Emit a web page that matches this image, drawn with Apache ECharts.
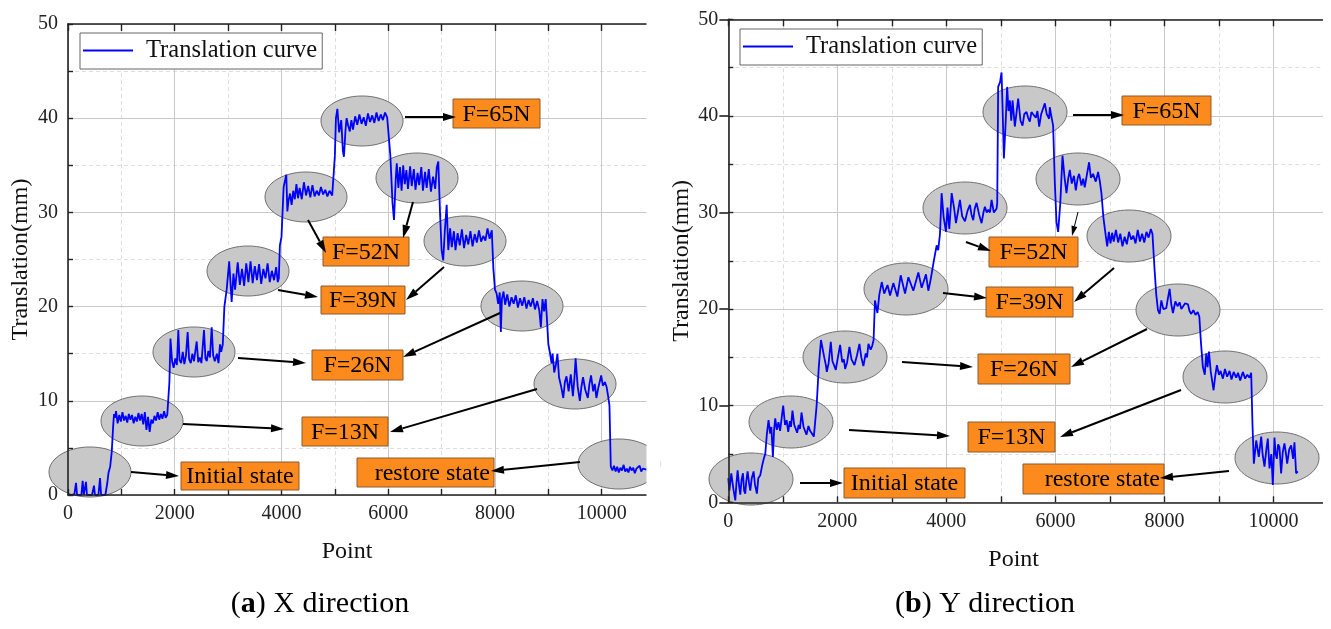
<!DOCTYPE html>
<html>
<head>
<meta charset="utf-8">
<title>Translation curve</title>
<script src="https://cdn.jsdelivr.net/npm/echarts@6/dist/echarts.min.js"></script>
<style>
  html, body { margin: 0; padding: 0; background: #fff; }
  #mychart { width: 1331px; height: 629px; }
</style>
</head>
<body>
<div id="mychart"></div>
<script>
var curveName = 'Translation curve';
var stateLabels = ['Initial state', 'F=13N', 'F=26N', 'F=39N', 'F=52N', 'F=65N', 'restore state'];
var panelCaptions = ['X direction', 'Y direction'];
var panelTags = ['a', 'b'];

// [point, translation mm]
var xDirection = [
  [0,0],[60,0],[120,0.1],[150,1.3],[170,0],[250,0],[275,1.5],[295,0],[320,0.2],[337,1.4],[355,0],[450,0],[487,1.0],[505,0],
  [570,0],[600,1.8],[620,0],[700,0],[737,1.3],[760,2.4],[790,3.0],[820,4.6],[845,7.2],[862,8.6],
  [880,8.2],[900,8.9],[930,7.6],[960,8.5],[990,7.8],[1020,8.8],[1050,7.9],[1080,8.4],[1110,7.7],[1140,8.6],[1170,8.0],
  [1200,8.5],[1230,7.6],[1260,8.3],[1290,7.8],[1320,8.7],[1350,7.9],[1380,8.6],[1410,7.5],[1440,8.8],[1470,6.9],[1500,8.3],
  [1530,6.7],[1560,8.0],[1590,7.6],[1620,8.4],[1650,7.9],[1680,8.8],[1710,8.0],[1740,8.6],[1770,8.1],[1800,8.9],[1830,8.2],
  [1860,8.5],[1880,8.4],[1900,12.0],
  [1920,16.6],[1950,14.2],[1980,13.5],[2010,14.5],[2040,13.8],[2067,17.5],[2090,14.3],[2120,14.0],[2150,15.2],[2180,13.9],
  [2210,14.8],[2242,17.3],[2270,14.4],[2300,14.0],[2330,15.0],[2360,14.2],[2411,16.3],[2440,14.1],[2470,14.6],[2500,14.0],
  [2548,17.5],[2575,14.5],[2600,14.2],[2630,15.3],[2660,14.6],[2692,17.8],[2720,14.8],[2750,14.2],[2790,15.0],[2820,14.0],
  [2848,16.0],[2870,15.2],[2900,16.0],[2930,20.0],[2973,21.8],[3020,24.8],[3066,20.5],
  [3100,23.5],[3130,21.8],[3180,24.7],[3220,22.3],[3260,24.0],[3300,22.2],[3340,24.6],[3380,22.6],[3420,24.8],[3460,22.5],
  [3500,24.3],[3540,22.8],[3580,24.5],[3620,22.4],[3660,24.0],[3700,23.0],[3740,24.6],[3780,22.6],[3820,23.8],[3860,22.8],
  [3900,24.2],[3930,22.6],[3950,23.0],[3970,26.5],[4000,27.4],[4040,32.7],[4090,34.0],[4110,30.1],
  [4130,31.2],[4160,32.0],[4190,30.8],[4220,32.3],[4250,31.4],[4280,33.0],[4310,31.5],[4340,32.6],[4380,31.4],[4420,33.2],
  [4460,31.8],[4500,32.8],[4540,31.6],[4580,32.9],[4620,31.7],[4660,32.3],[4700,31.8],[4740,32.7],[4780,31.9],[4820,32.4],
  [4860,31.7],[4900,32.3],[4950,31.8],[4980,32.0],[5000,36.0],[5020,40.0],[5047,41.0],[5080,38.5],[5120,39.8],[5150,36.5],
  [5170,35.9],[5200,38.8],[5220,40.0],
  [5250,39.2],[5280,38.6],[5310,39.8],[5340,38.8],[5380,40.2],[5420,39.3],[5460,40.4],[5500,39.4],[5540,40.1],[5580,39.2],
  [5620,40.5],[5660,39.6],[5700,40.3],[5740,39.5],[5780,40.6],[5820,39.7],[5860,40.4],[5900,39.8],[5940,40.6],[5980,40.1],
  [6010,40.3],[6040,36.0],[6080,31.0],[6108,29.2],[6140,33.5],[6160,35.2],
  [6190,32.6],[6220,34.8],[6250,32.3],[6280,35.0],[6310,33.0],[6340,34.5],[6370,32.5],[6410,34.9],[6440,32.8],[6480,34.6],
  [6510,32.4],[6550,34.2],[6580,32.9],[6620,34.8],[6650,32.3],[6690,34.3],[6720,32.6],[6760,34.6],[6800,32.2],[6840,33.8],
  [6880,32.5],[6910,34.8],[6938,35.4],[6970,30.0],[7000,26.0],[7030,24.9],[7060,28.0],[7095,30.8],
  [7125,26.0],[7160,28.3],[7190,26.3],[7230,28.0],[7260,26.0],[7300,27.8],[7340,26.5],[7380,28.2],[7420,26.2],[7460,27.6],
  [7500,26.6],[7540,28.0],[7580,26.4],[7620,27.7],[7660,26.8],[7700,28.1],[7740,26.9],[7780,27.5],[7820,27.0],[7860,28.3],
  [7900,27.2],[7940,28.1],[7970,24.0],[8000,21.8],
  [8030,21.4],[8060,20.3],[8090,21.5],[8110,17.3],[8130,20.8],[8160,21.6],[8190,20.2],[8230,21.3],[8270,20.0],[8310,21.0],
  [8350,20.3],[8390,21.2],[8430,19.9],[8470,20.9],[8510,20.1],[8550,21.0],[8590,19.8],[8630,20.7],[8670,20.0],[8710,20.9],
  [8750,19.7],[8790,20.6],[8830,19.6],[8860,17.8],[8890,20.8],[8920,19.5],[8950,20.8],[8970,19.0],[9000,16.0],[9030,15.1],
  [9060,14.0],[9080,15.0],[9110,13.0],[9140,13.8],[9170,15.0],[9200,12.5],[9240,11.5],[9280,10.3],[9310,12.0],[9340,12.6],
  [9380,11.0],[9420,12.8],[9460,10.5],[9490,12.5],[9510,14.5],[9550,11.5],[9590,10.0],[9620,11.5],[9650,12.5],[9690,11.2],
  [9740,10.3],[9770,11.8],[9800,12.7],[9840,11.0],[9870,11.8],[9900,10.3],[9940,11.5],[9990,12.7],[10020,11.6],[10060,12.0],
  [10090,11.5],[10120,10.5],[10145,9.5],[10170,3.0],
  [10200,2.6],[10230,3.1],[10260,2.5],[10290,3.0],[10320,2.4],[10350,2.9],[10380,2.6],[10410,3.2],[10440,2.5],[10470,2.8],
  [10500,2.4],[10530,3.0],[10560,2.6],[10590,2.9],[10620,2.3],[10650,2.8],[10680,2.6],[10710,3.1],[10740,2.5],[10770,2.8],
  [10800,2.6],[10840,2.7]
];

// [point, translation mm]
var yDirection = [
  [0,2.5],[20,1.2],[55,3.0],[90,1.5],[128,0.2],[150,2.0],[171,3.3],[200,1.6],[220,0.8],[245,2.4],[269,3.0],[290,1.2],
  [311,0.9],[330,2.2],[354,3.2],[380,2.0],[403,1.2],[430,2.5],[464,3.2],[490,1.8],[525,0.9],[550,2.5],[586,2.8],[617,3.7],
  [650,4.5],[678,5.0],[708,7.1],[738,8.5],[768,7.1],[790,7.8],[818,4.7],[840,7.5],[861,8.7],
  [890,7.5],[920,8.3],[950,7.4],[980,8.8],[1007,10.0],[1040,8.0],[1070,8.5],[1099,7.3],[1130,8.4],[1150,7.8],[1177,9.5],
  [1210,8.0],[1240,8.2],[1263,7.2],[1290,8.0],[1315,7.6],[1343,9.3],[1380,7.8],[1410,8.0],[1434,7.0],[1470,7.9],[1500,7.4],
  [1530,7.5],[1569,6.8],[1590,7.0],[1620,10.0],[1660,14.0],[1700,16.8],
  [1728,17.0],[1760,15.0],[1790,14.2],[1807,13.5],[1840,14.4],[1880,16.6],[1910,14.6],[1940,14.2],[1972,13.7],[2010,15.0],
  [2051,16.3],[2090,14.5],[2120,14.8],[2143,13.8],[2180,14.5],[2222,16.1],[2260,14.8],[2290,15.0],[2314,14.2],[2360,15.2],
  [2405,16.4],[2440,15.0],[2478,14.1],[2520,15.4],[2545,15.0],[2570,16.4],[2610,15.8],[2640,16.2],[2665,16.8],
  [2690,20.9],[2735,19.6],[2770,21.5],[2815,22.8],[2860,21.6],[2920,22.5],[2967,21.4],[3028,22.7],[3101,21.3],[3162,23.5],
  [3242,21.6],[3303,23.3],[3394,21.9],[3486,23.8],[3547,22.2],[3626,23.6],[3669,21.9],[3710,23.0],[3773,25.1],[3822,26.6],
  [3850,26.1],[3883,27.8],[3913,32.0],[3950,29.5],[3993,28.0],[4020,30.5],[4054,28.3],[4097,32.0],
  [4140,30.5],[4176,28.9],[4210,30.0],[4249,31.3],[4290,29.6],[4341,29.1],[4390,30.2],[4432,30.8],[4460,29.8],[4493,29.2],
  [4520,30.4],[4554,31.0],[4600,29.8],[4646,28.9],[4680,30.0],[4707,30.6],[4740,30.0],[4768,30.3],[4800,30.0],[4829,31.3],
  [4870,30.0],[4921,30.4],
  [4933,31.0],[4950,43.0],[4985,43.5],[5012,44.5],[5035,40.0],[5055,35.6],[5085,39.0],[5115,43.0],[5140,40.5],[5165,41.6],
  [5190,39.5],[5214,41.6],[5256,38.9],[5290,40.5],[5317,41.8],[5360,39.5],[5397,39.0],[5430,40.2],[5470,40.4],[5500,39.8],
  [5531,39.4],[5560,40.4],[5592,40.6],[5640,39.8],[5670,40.5],[5702,38.9],[5740,40.2],[5770,40.0],[5806,41.3],[5840,40.2],
  [5885,39.7],[5897,40.9],[5928,39.9],[5958,39.0],[5990,33.0],[6020,29.0],[6050,28.0],[6090,31.0],[6130,35.9],
  [6170,33.5],[6203,32.0],[6235,33.5],[6264,34.4],[6300,33.0],[6340,33.8],[6374,32.3],[6410,33.6],[6435,34.0],[6478,32.8],
  [6510,33.5],[6538,32.6],[6580,34.0],[6618,35.2],[6650,33.6],[6691,34.0],[6740,33.2],[6783,34.2],[6813,33.3],[6844,32.0],
  [6880,29.5],[6923,27.6],
  [6950,26.5],[6980,28.0],[7010,26.8],[7040,27.9],[7070,27.0],[7110,28.2],[7150,26.9],[7190,27.8],[7230,26.5],[7270,27.5],
  [7310,26.7],[7350,28.0],[7390,27.2],[7430,27.6],[7470,26.8],[7510,28.2],[7550,27.0],[7590,27.8],[7630,26.9],[7670,28.0],
  [7710,27.4],[7750,28.3],[7780,27.8],[7820,24.0],[7850,21.5],[7881,19.9],
  [7912,19.5],[7943,20.9],[7980,20.0],[8034,20.1],[8060,21.0],[8095,22.1],[8125,20.5],[8156,19.6],[8200,20.8],[8240,20.3],
  [8278,20.7],[8310,20.0],[8339,20.2],[8380,20.6],[8431,20.5],[8460,19.8],[8492,19.5],[8530,19.9],[8570,19.4],[8610,19.7],
  [8640,19.2],[8670,16.5],[8705,14.0],
  [8740,13.2],[8767,15.4],[8790,14.0],[8816,15.6],[8850,13.5],[8901,11.6],[8930,13.0],[8962,14.2],[9000,13.2],[9030,13.6],
  [9072,12.8],[9110,13.8],[9150,13.0],[9194,13.6],[9230,12.7],[9270,13.5],[9316,12.9],[9350,13.4],[9390,12.6],[9438,13.5],
  [9480,12.8],[9520,13.2],[9560,12.9],[9591,13.4],[9615,8.0],[9640,4.0],
  [9683,6.4],[9731,4.7],[9775,6.8],[9800,5.0],[9835,3.7],[9870,5.5],[9896,6.6],[9927,3.5],[9960,5.0],[9988,1.8],
  [10018,6.7],[10040,5.0],[10061,4.5],[10085,6.0],[10110,5.7],[10140,3.0],[10170,5.2],[10201,6.1],[10230,5.0],[10251,4.0],
  [10290,5.5],[10324,5.9],[10360,4.5],[10385,6.2],[10415,3.0],[10445,3.2]
];

var serif = '"Liberation Serif", "Times New Roman", serif';
var axisColor = '#222';

// annotation layout (pixels): ellipses [cx, cy], boxes [label, x, y, w, h], arrows [x1, y1, x2, y2, width]
var panelNotes = [
  {
    rx: 41, ry: 25,
    ellipses: [[90,472],[142,421],[194,352],[248,271],[306,197],[362,121],[417,178],[465,241],[522,306],[575,384],[619,464]],
    boxes: [[0,181,462,118,28],[1,302,417,86,29],[2,312,350,91,30],[3,321,286,84,28],[4,323,237,86,29],[5,453,99,87,29],[6,357,458,137,29]],
    arrows: [[131,472,179,476,2],[183,424,284,429,2],[238,358,306,363,2],[278,290,318,297,2],[308,220,326,253,2],[405,117,456,117,2],
             [413,202,403,238,2],[444,267,406,300,2],[500,313,403,357,2],[537,389,390,432,2],[580,462,491,471,2]],
    cover: [646.5, 12, 14, 490]
  },
  {
    rx: 42, ry: 26,
    ellipses: [[751,479],[791,422],[845,357],[906,289],[965,208],[1025,112],[1078,179],[1129,236],[1178,310],[1225,377],[1277,458]],
    boxes: [[0,844,468,121,30],[1,968,422,87,30],[2,978,354,92,30],[3,986,287,87,30],[4,989,237,89,30],[5,1122,96,89,29],[6,1023,464,141,30]],
    arrows: [[800,483,843,483,2],[849,430,950,436,2],[902,362,973,367,2],[943,293,987,298,2],[966,242,991,251,2],[1073,115,1124,115,2],
             [1078,212,1072,236,1],[1114,268,1074,302,2],[1147,329,1071,367,2],[1181,390,1060,437,2],[1229,471,1160,478,2]],
    cover: [1323, 0, 10, 629]
  }
];

function arrowShapes(a) {
  var ang = Math.atan2(a[3] - a[1], a[2] - a[0]);
  var len = a[4] > 1 ? 13 : 10, half = a[4] > 1 ? 4 : 3;
  var bx = a[2] - len * Math.cos(ang), by = a[3] - len * Math.sin(ang);
  var nx = -Math.sin(ang) * half, ny = Math.cos(ang) * half;
  return [
    {type: 'line', z: 20, shape: {x1: a[0], y1: a[1], x2: bx, y2: by}, style: {stroke: '#000', lineWidth: a[4]}},
    {type: 'polygon', z: 20, shape: {points: [[a[2], a[3]], [bx + nx, by + ny], [bx - nx, by - ny]]}, style: {fill: '#000'}}
  ];
}

function buildGraphic() {
  var els = [];
  panelNotes.forEach(function (p) {
    p.ellipses.forEach(function (e) {
      els.push({type: 'ellipse', z: 3, shape: {cx: e[0], cy: e[1], rx: p.rx, ry: p.ry},
        style: {fill: '#c8c8c8', stroke: '#707070', lineWidth: 1}});
    });
    p.boxes.forEach(function (b) {
      var txt = stateLabels[b[0]];
      var right = txt === 'restore state';
      els.push({type: 'rect', z: 20, shape: {x: b[1], y: b[2], width: b[3], height: b[4]},
        style: {fill: '#fd8a1c', stroke: '#8a5a30', lineWidth: 1}});
      els.push({type: 'text', z: 21, style: {
        text: txt, x: right ? b[1] + b[3] - 4 : b[1] + b[3] / 2, y: b[2] + b[4] / 2 + 1,
        textAlign: right ? 'right' : 'center', align: right ? 'right' : 'center',
        textVerticalAlign: 'middle', verticalAlign: 'middle',
        fontFamily: serif, fontSize: 24, fill: '#000'}});
    });
    p.arrows.forEach(function (a) {
      els = els.concat(arrowShapes(a));
    });
    els.push({type: 'rect', z: 50, shape: {x: p.cover[0], y: p.cover[1], width: p.cover[2], height: p.cover[3]},
      style: {fill: '#fff'}});
  });
  // figure captions
  [320, 985].forEach(function (cx, i) {
    els.push({type: 'text', z: 30, style: {
      text: '({b|' + panelTags[i] + '}) ' + panelCaptions[i], x: cx, y: 604,
      textAlign: 'center', align: 'center', textVerticalAlign: 'middle', verticalAlign: 'middle',
      fontFamily: serif, fontSize: 30, fill: '#000',
      rich: {b: {fontFamily: serif, fontSize: 30, fontWeight: 'bold', fill: '#000'}}}});
  });
  return els;
}

var hidden = {axisLine: {show: false}, axisTick: {show: false}, axisLabel: {show: false}};
function plain(base, extra) {
  var o = {};
  var k;
  for (k in hidden) o[k] = hidden[k];
  for (k in base) o[k] = base[k];
  for (k in extra) o[k] = extra[k];
  return o;
}

function mainX(g) {
  return {
    gridIndex: g, type: 'value', position: 'bottom', min: 0, max: 11000, interval: 1000, z: 6,
    name: 'Point', nameLocation: 'middle', nameGap: 45,
    nameTextStyle: {fontFamily: serif, fontSize: 24, color: '#111', padding: [0, 29, 0, 0]},
    axisLine: {show: true, onZero: false, lineStyle: {color: axisColor, width: 1.6}},
    axisTick: {show: true, inside: true, length: 6, lineStyle: {color: axisColor, width: 1.4}},
    axisLabel: {margin: 9, fontFamily: serif, fontSize: 20, color: '#222',
      formatter: function (v) { return v % 2000 === 0 ? String(v) : ''; }},
    splitLine: {show: false}
  };
}
function topX(g) {
  return {
    gridIndex: g, type: 'value', position: 'top', min: 0, max: 11000, interval: 1000, z: 6,
    axisLine: {show: true, onZero: false, lineStyle: {color: axisColor, width: 1.6}},
    axisTick: {show: true, inside: true, length: 7, lineStyle: {color: axisColor, width: 1.4}},
    axisLabel: {show: false},
    splitLine: {show: false}
  };
}
function gridX(g, step, z, style) {
  return plain({gridIndex: g, type: 'value', position: 'top', min: 0, max: 11000, interval: step, z: z},
    {splitLine: {show: true, lineStyle: style}});
}
function mainY(g) {
  return {
    gridIndex: g, type: 'value', position: 'left', min: 0, max: 50, interval: 5, z: 6,
    name: 'Translation(mm)', nameLocation: 'middle', nameGap: 35,
    nameTextStyle: {fontFamily: serif, fontSize: 24, color: '#111'},
    axisLine: {show: true, onZero: false, lineStyle: {color: axisColor, width: 1.6}},
    axisTick: {show: true, inside: true, length: 5, lineStyle: {color: axisColor, width: 1.4}},
    axisLabel: {margin: 10, fontFamily: serif, fontSize: 20, color: '#222',
      formatter: function (v) { return v % 10 === 0 ? String(v) : ''; }},
    splitLine: {show: false}
  };
}
function gridY(g, step, z, style) {
  return plain({gridIndex: g, type: 'value', position: 'right', min: 0, max: 50, interval: step, z: z},
    {splitLine: {show: true, lineStyle: style}});
}
function rightTicksY(g) {
  return plain({gridIndex: g, type: 'value', position: 'right', min: 0, max: 50, interval: 10, z: 6},
    {axisTick: {show: true, inside: true, length: 9, lineStyle: {color: axisColor, width: 1.6}}, splitLine: {show: false}});
}
function legendAt(left, top) {
  return {
    data: [{name: curveName, icon: 'rect'}], left: left, top: top, orient: 'horizontal',
    backgroundColor: '#fff', borderColor: '#666', borderWidth: 1, borderRadius: 0,
    padding: [5, 5, 6, 3], itemWidth: 50, itemHeight: 2,
    itemStyle: {color: '#0000ff'},
    textStyle: {fontFamily: serif, fontSize: 24.5, color: '#111', padding: [0, 0, 0, 8]}
  };
}
function curveSeries(xi, yi, data) {
  return {
    name: curveName, type: 'line', xAxisIndex: xi, yAxisIndex: yi, data: data,
    symbol: 'none', showSymbol: false, z: 5, animation: false,
    lineStyle: {color: '#0000ff', width: 1.8}, itemStyle: {color: '#0000ff'}
  };
}

var minorStyle = {color: '#dedede', width: 1, type: [4, 3]};
var majorStyle = {color: '#c9c9c9', width: 1};

var myChart = echarts.init(document.getElementById('mychart'), null, {renderer: 'canvas'});
var option = {
  backgroundColor: '#fff',
  animation: false,
  grid: [
    {left: 68, top: 24, width: 587.1, height: 471},
    {left: 728.3, top: 19.3, width: 600.6, height: 483}
  ],
  legend: [legendAt(80, 33), legendAt(740, 29)],
  xAxis: [
    mainX(0), topX(0), gridX(0, 1000, 0, minorStyle), gridX(0, 2000, 1, majorStyle),
    mainX(1), topX(1), gridX(1, 1000, 0, minorStyle), gridX(1, 2000, 1, majorStyle)
  ],
  yAxis: [
    mainY(0), gridY(0, 5, 0, minorStyle), gridY(0, 10, 1, majorStyle),
    mainY(1), gridY(1, 5, 0, minorStyle), gridY(1, 10, 1, majorStyle), rightTicksY(1)
  ],
  series: [curveSeries(0, 0, xDirection), curveSeries(4, 3, yDirection)],
  graphic: {elements: buildGraphic()}
};

if (option && typeof option === "object") {
  myChart.setOption(option, true);
}
</script>
</body>
</html>
